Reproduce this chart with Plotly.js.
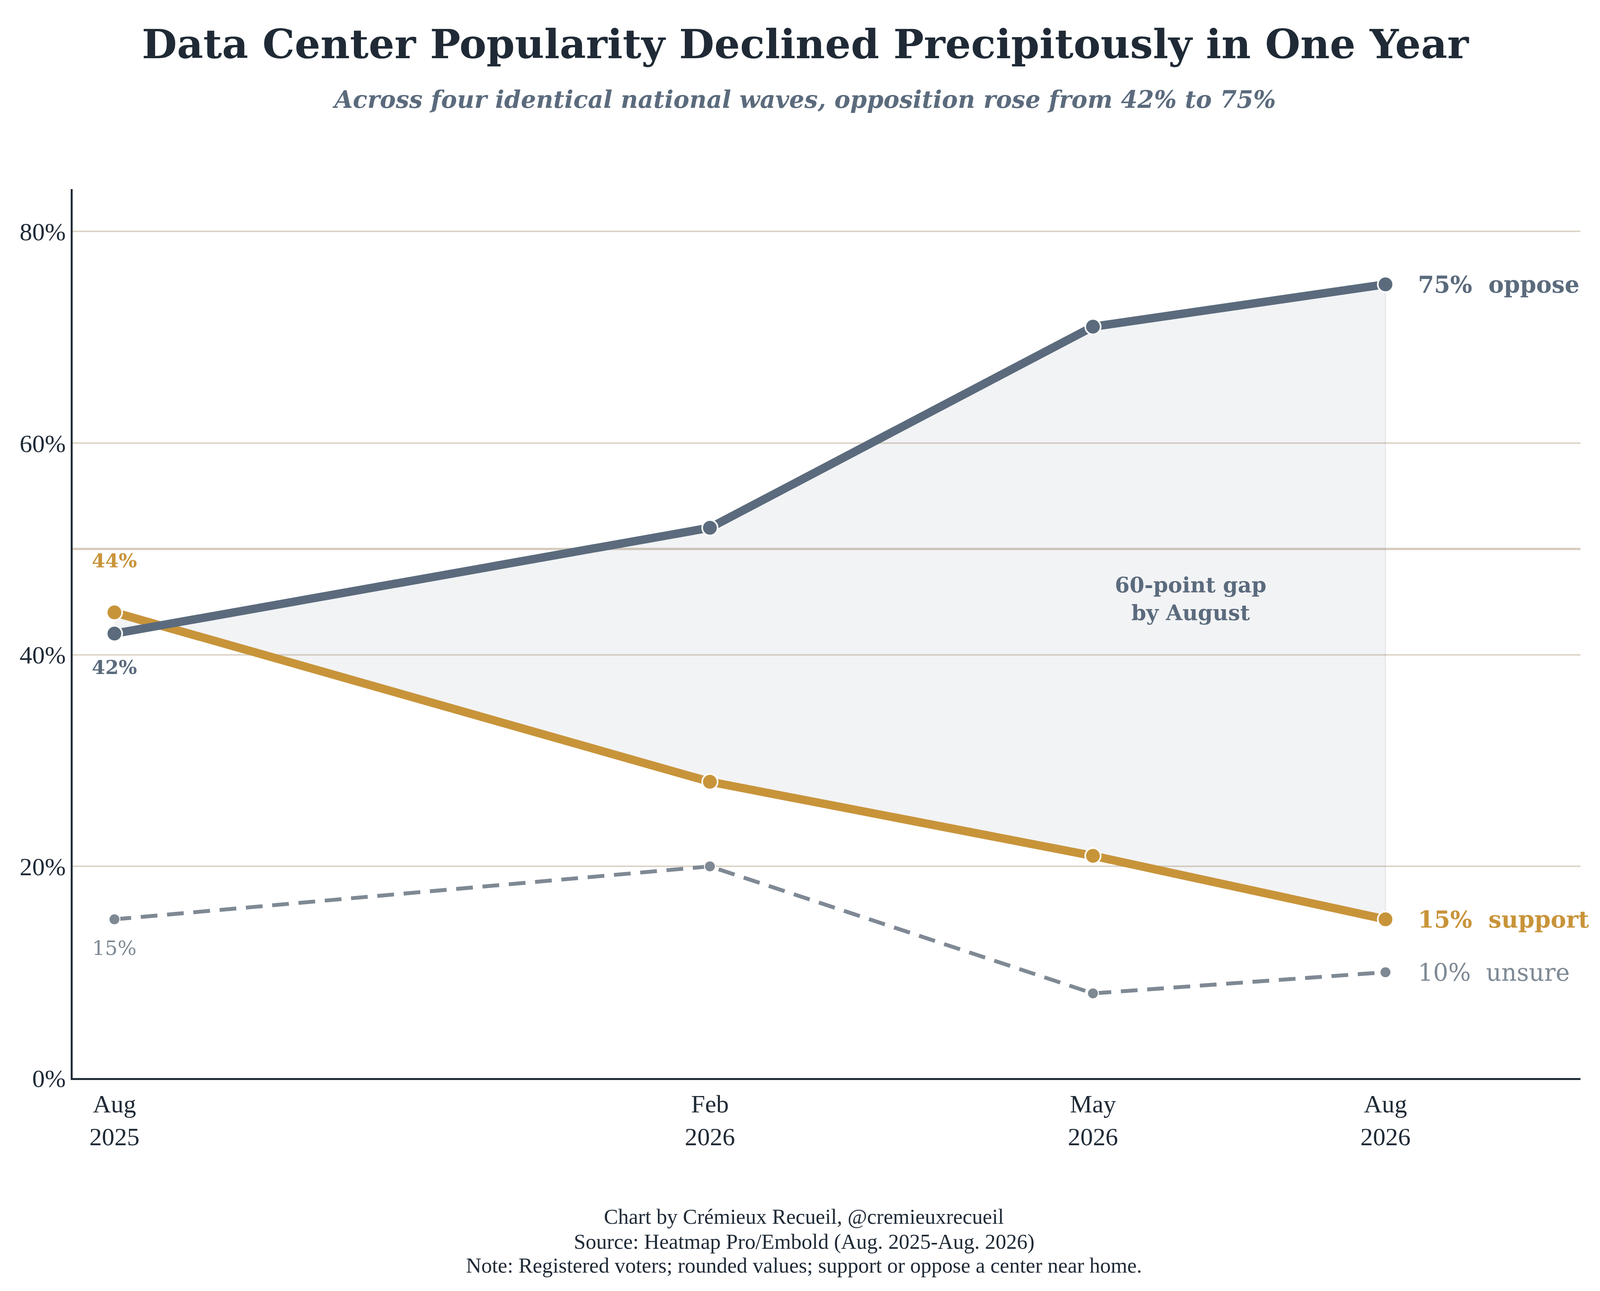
<!DOCTYPE html>
<html>
<head>
<meta charset="utf-8">
<title>Data Center Popularity</title>
<script src="https://cdn.plot.ly/plotly-3.0.1.min.js"></script>
<style>
  html, body { margin: 0; padding: 0; background: #ffffff; overflow: hidden; }
  #chart { width: 100vw; height: 100vh; }
</style>
</head>
<body>
<div id="chart"></div>
<script>
// survey waves (approximate fielding dates) and their axis labels
const waveDates = ['2025-08-15', '2026-02-02', '2026-05-23', '2026-08-15'];
const waveLabels = ['Aug<br>2025', 'Feb<br>2026', 'May<br>2026', 'Aug<br>2026'];

// share of registered voters, %
const oppose = [42, 52, 71, 75];
const support = [44, 28, 21, 15];
const unsure = [15, 20, 8, 10];

const yTicks = [0, 20, 40, 60, 80];

const SLATE = '#5b6b7d';
const GOLD = '#c8943a';
const GREY = '#7e8994';
const INK = '#1f2a36';
const GRID = '#ddd5c9';

const BOLD = 'DejaVu Serif';
const PLAIN = 'Liberation Serif';

// laid out for a 4971 x 3304 canvas, stretched to whatever the window is
const W = window.innerWidth || 4971;
const H = window.innerHeight || 3304;
const SX = W / 4971;
const SY = H / 3304;
const px = v => v * SX;    // horizontal sizes and fonts
const py = v => v * SY;    // vertical offsets
const pm = v => v * Math.min(SX, SY);

const last = waveDates.length - 1;

const traces = [
  {
    // shaded gap between oppose and support
    x: waveDates.concat(waveDates.slice().reverse()),
    y: oppose.concat(support.slice().reverse()),
    type: 'scatter',
    mode: 'lines',
    fill: 'toself',
    fillcolor: 'rgba(91,107,125,0.08)',
    line: { color: 'rgba(91,107,125,0.10)', width: pm(4) },
    hoverinfo: 'skip'
  },
  {
    x: waveDates,
    y: unsure,
    type: 'scatter',
    mode: 'lines+markers',
    name: 'unsure',
    line: { color: GREY, width: pm(12), dash: pm(52) + 'px,' + pm(30) + 'px' },
    marker: { size: pm(34), color: GREY, line: { color: '#ffffff', width: pm(3) } }
  },
  {
    x: waveDates,
    y: support,
    type: 'scatter',
    mode: 'lines+markers',
    name: 'support',
    line: { color: GOLD, width: pm(26) },
    marker: { size: pm(48), color: GOLD, line: { color: '#ffffff', width: pm(5) } }
  },
  {
    x: waveDates,
    y: oppose,
    type: 'scatter',
    mode: 'lines+markers',
    name: 'oppose',
    line: { color: SLATE, width: pm(26) },
    marker: { size: pm(48), color: SLATE, line: { color: '#ffffff', width: pm(5) } }
  }
];

function note(text, x, y, font, opts) {
  return Object.assign({
    text: text, x: x, y: y, showarrow: false,
    xanchor: 'center', yanchor: 'middle', font: font
  }, opts || {});
}

const onPaper = { xref: 'paper', yref: 'paper' };

const annotations = [
  // title block
  note('<b>Data Center Popularity Declined Precipitously in One Year</b>', 0.486, 1.1635,
    { family: BOLD, size: px(126), color: INK }, onPaper),
  note('<b><i>Across four identical national waves, opposition rose from ' +
      oppose[0] + '% to ' + oppose[last] + '%</i></b>', 0.485, 1.1007,
    { family: BOLD, size: px(74), color: SLATE }, onPaper),
  // start labels
  note('<b>' + support[0] + '%</b>', waveDates[0], support[0],
    { family: BOLD, size: px(60), color: GOLD }, { yshift: py(132) }),
  note('<b>' + oppose[0] + '%</b>', waveDates[0], oppose[0],
    { family: BOLD, size: px(60), color: SLATE }, { yshift: py(-86) }),
  note(unsure[0] + '%', waveDates[0], unsure[0],
    { family: BOLD, size: px(62), color: GREY }, { yshift: py(-74) }),
  // end labels
  note('<b>' + oppose[last] + '%\u00a0\u00a0oppose</b>', waveDates[last], oppose[last],
    { family: BOLD, size: px(72), color: SLATE }, { xanchor: 'left', xshift: px(98) }),
  note('<b>' + support[last] + '%\u00a0\u00a0support</b>', waveDates[last], support[last],
    { family: BOLD, size: px(72), color: GOLD }, { xanchor: 'left', xshift: px(98) }),
  note(unsure[last] + '%\u00a0\u00a0unsure', waveDates[last], unsure[last],
    { family: BOLD, size: px(74), color: GREY }, { xanchor: 'left', xshift: px(98) }),
  // gap callout
  note('<b>' + (oppose[last] - support[last]) + '-point gap<br>by August</b>', '2026-06-20', 45.3,
    { family: BOLD, size: px(66), color: SLATE }),
  // footer
  note('Chart by Crémieux Recueil, @cremieuxrecueil', 0.485, -0.156,
    { family: PLAIN, size: px(66), color: INK }, onPaper),
  note('Source: Heatmap Pro/Embold (Aug. 2025-Aug. 2026)', 0.485, -0.184,
    { family: PLAIN, size: px(66), color: INK }, onPaper),
  note('Note: Registered voters; rounded values; support or oppose a center near home.', 0.485, -0.211,
    { family: PLAIN, size: px(66), color: INK }, onPaper)
];

const layout = {
  width: W,
  height: H,
  margin: { l: px(226), r: W - px(4910), t: py(484), b: H - py(2759), pad: 0 },
  paper_bgcolor: '#ffffff',
  plot_bgcolor: '#ffffff',
  showlegend: false,
  hovermode: false,
  xaxis: {
    type: 'date',
    range: ['2025-08-03', '2026-10-10'],
    tickmode: 'array',
    tickvals: waveDates,
    ticktext: waveLabels,
    ticks: '',
    showgrid: false,
    zeroline: false,
    showline: true,
    linecolor: INK,
    linewidth: pm(6),
    ticklabelstandoff: py(6),
    tickfont: { family: PLAIN, size: px(78), color: INK }
  },
  yaxis: {
    range: [0, 84],
    tickmode: 'array',
    tickvals: yTicks,
    ticktext: yTicks.map(v => v + '%'),
    ticks: '',
    showgrid: true,
    gridcolor: GRID,
    gridwidth: pm(5),
    zeroline: false,
    showline: true,
    linecolor: INK,
    linewidth: pm(6),
    ticklabelstandoff: px(50),
    tickfont: { family: PLAIN, size: px(78), color: INK }
  },
  shapes: [
    {
      type: 'line', xref: 'paper', yref: 'y', x0: 0, x1: 1, y0: 50, y1: 50,
      layer: 'below', line: { color: '#d6cbbd', width: pm(7) }
    }
  ],
  annotations: annotations
};

Plotly.newPlot('chart', traces, layout, { displayModeBar: false, responsive: false });
</script>
</body>
</html>
